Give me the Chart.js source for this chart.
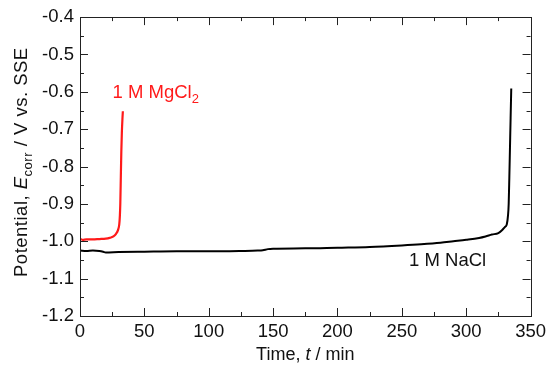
<!DOCTYPE html>
<html>
<head>
<meta charset="utf-8">
<script src="https://cdn.jsdelivr.net/npm/chart.js@4"></script>
<style>
  html, body { margin: 0; padding: 0; background: #fff; }
  #wrap { width: 551px; height: 367px; }
</style>
</head>
<body>
<div id="wrap"><canvas id="ecorrChart" width="551" height="367"></canvas></div>
<script>
// time (min) and potential (V vs. SSE)
const mgclTime = [0, 2, 5, 10, 15, 20, 23, 26, 28, 29.5, 30.5, 31, 31.3, 31.7, 32.1, 32.5, 33, 33.3];
const mgclVolt = [-0.993, -0.996, -0.995, -0.995, -0.994, -0.993, -0.991, -0.987, -0.980, -0.970, -0.955, -0.930, -0.900, -0.830, -0.760, -0.710, -0.670, -0.652];

const naclTime = [0, 5, 10, 15, 18, 20, 30, 50, 75, 100, 125, 138, 142, 146, 150, 175, 200, 225, 250, 265, 280, 290, 300, 310, 315, 320, 325, 328, 330, 331.5, 332.5, 333, 333.5, 334, 334.5, 335];
const naclVolt = [-1.025, -1.026, -1.025, -1.026, -1.028, -1.030, -1.029, -1.028, -1.027, -1.027, -1.026, -1.025, -1.024, -1.021, -1.020, -1.019, -1.017, -1.015, -1.011, -1.008, -1.004, -1.000, -0.996, -0.991, -0.987, -0.982, -0.978, -0.970, -0.962, -0.955, -0.930, -0.900, -0.830, -0.750, -0.670, -0.591];

const xTicks = [0, 50, 100, 150, 200, 250, 300, 350];
const yTicks = [-1.2, -1.1, -1.0, -0.9, -0.8, -0.7, -0.6, -0.5, -0.4];

const FONT = "Arial, 'Liberation Sans', sans-serif";

function toPoints(xs, ys) {
  return xs.map((x, i) => ({ x: x, y: ys[i] }));
}

// draws text made of pieces (italic / subscript) starting at x, baseline y
function drawRich(ctx, parts, x, y, size) {
  parts.forEach(p => {
    const s = p.sub ? Math.round(size * 0.72) : size;
    ctx.font = (p.italic ? "italic " : "") + s + "px " + FONT;
    ctx.fillText(p.t, x, y + (p.sub ? size * 0.25 : 0));
    x += ctx.measureText(p.t).width;
  });
}

const framePlugin = {
  id: "frame",
  afterDraw(chart) {
    const ctx = chart.ctx;
    const a = chart.chartArea;
    const xs = chart.scales.x, ys = chart.scales.y;
    ctx.save();
    ctx.strokeStyle = "#222";
    ctx.lineWidth = 1;
    ctx.strokeRect(Math.round(a.left) + 0.5, Math.round(a.top) + 0.5,
      Math.round(a.right - a.left), Math.round(a.bottom - a.top));

    ctx.beginPath();
    for (let v = 0; v <= 350; v += 25) {
      const px = Math.round(xs.getPixelForValue(v)) + 0.5;
      const len = v % 50 === 0 ? 8 : 4;
      ctx.moveTo(px, a.bottom); ctx.lineTo(px, a.bottom - len);
      ctx.moveTo(px, a.top); ctx.lineTo(px, a.top + len);
    }
    for (let k = 0; k <= 16; k++) {
      const v = -1.2 + k * 0.05;
      const py = Math.round(ys.getPixelForValue(v)) + 0.5;
      const len = k % 2 === 0 ? 8 : 4;
      ctx.moveTo(a.left, py); ctx.lineTo(a.left + len, py);
      ctx.moveTo(a.right, py); ctx.lineTo(a.right - len, py);
    }
    ctx.stroke();

    // series labels
    ctx.textAlign = "left";
    ctx.textBaseline = "alphabetic";
    ctx.fillStyle = "#ff1a1a";
    drawRich(ctx, [{ t: "1 M MgCl" }, { t: "2", sub: true }],
      xs.getPixelForValue(25.3), ys.getPixelForValue(-0.617), 18.5);
    ctx.fillStyle = "#111";
    drawRich(ctx, [{ t: "1 M NaCl" }],
      xs.getPixelForValue(255.6), ys.getPixelForValue(-1.067), 18.5);

    // axis titles
    ctx.fillStyle = "#111";
    const xParts = [{ t: "Time, " }, { t: "t", italic: true }, { t: " / min" }];
    let w = 0;
    xParts.forEach(p => { ctx.font = (p.italic ? "italic " : "") + "18px " + FONT; w += ctx.measureText(p.t).width; });
    drawRich(ctx, xParts, (a.left + a.right) / 2 - w / 2, 360, 18);

    ctx.translate(27, 277);
    ctx.rotate(-Math.PI / 2);
    ctx.letterSpacing = "0.5px";
    drawRich(ctx, [{ t: "Potential, " }, { t: "E", italic: true }, { t: "corr", sub: true }, { t: " / V vs. SSE" }], 0, 0, 18.5);
    ctx.restore();
  }
};

new Chart(document.getElementById("ecorrChart"), {
  type: "scatter",
  data: {
    datasets: [
      {
        label: "1 M MgCl2",
        data: toPoints(mgclTime, mgclVolt),
        showLine: true,
        borderColor: "#ff1a1a",
        borderWidth: 2.2,
        pointRadius: 0,
        cubicInterpolationMode: "monotone",
      },
      {
        label: "1 M NaCl",
        data: toPoints(naclTime, naclVolt),
        showLine: true,
        borderColor: "#000",
        borderWidth: 2,
        pointRadius: 0,
        cubicInterpolationMode: "monotone",
      },
    ],
  },
  options: {
    responsive: false,
    animation: false,
    devicePixelRatio: 1,
    layout: { padding: { top: 14, right: 18, left: 0, bottom: 0 } },
    plugins: {
      legend: { display: false },
      tooltip: { enabled: false },
    },
    scales: {
      x: {
        type: "linear",
        min: 0,
        max: 350,
        afterBuildTicks: s => { s.ticks = xTicks.map(v => ({ value: v })); },
        afterFit: s => { s.height = 51; },
        grid: { display: false, drawTicks: false },
        border: { display: false },
        ticks: { color: "#111", font: { size: 18.5, family: FONT }, padding: 5, maxRotation: 0 },
      },
      y: {
        type: "linear",
        min: -1.2,
        max: -0.4,
        afterBuildTicks: s => { s.ticks = yTicks.map(v => ({ value: v })); },
        afterFit: s => { s.width = 80; },
        grid: { display: false, drawTicks: false },
        border: { display: false },
        ticks: {
          color: "#111",
          font: { size: 18.5, family: FONT },
          padding: 6,
          callback: v => v.toFixed(1),
        },
      },
    },
  },
  plugins: [framePlugin],
});
</script>
</body>
</html>
